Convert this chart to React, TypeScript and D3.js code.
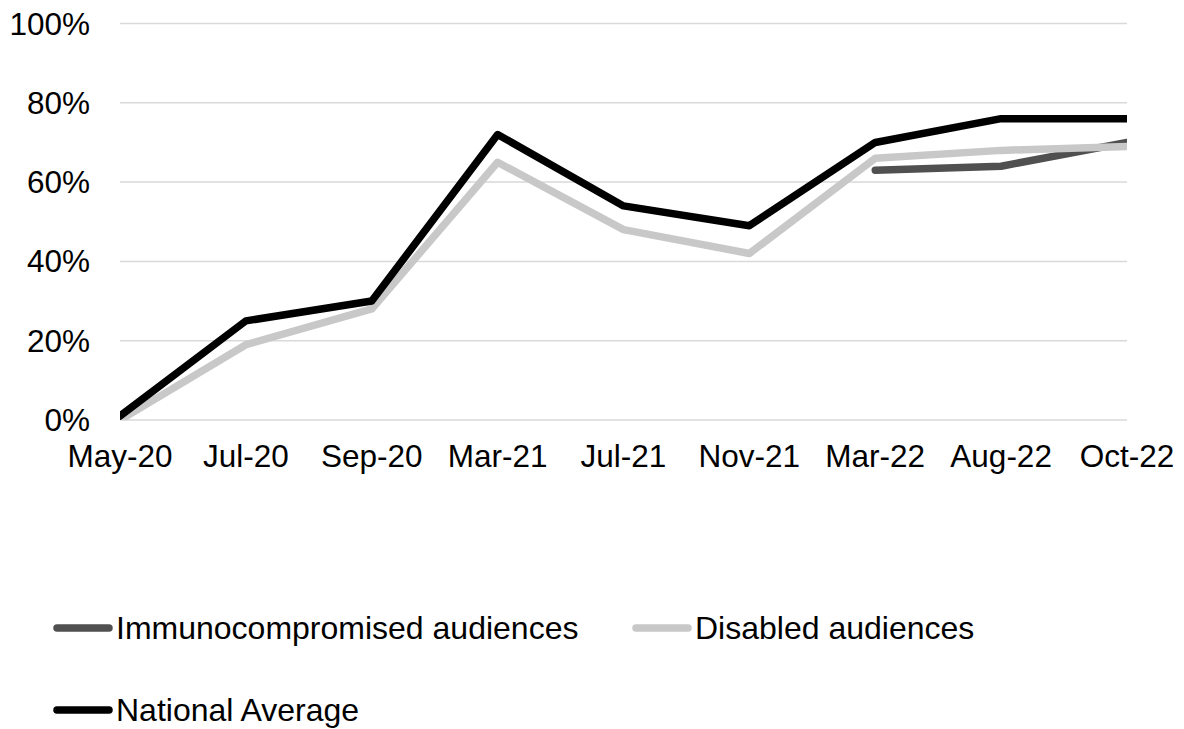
import { useEffect, useRef } from 'react';
import * as d3 from "d3";

const categories = ["May-20", "Jul-20", "Sep-20", "Mar-21", "Jul-21", "Nov-21", "Mar-22", "Aug-22", "Oct-22"];
const immunoValues: (number | null)[] = [null, null, null, null, null, null, 63, 64, 70];
const disabledValues: (number | null)[] = [0, 19, 28, 65, 48, 42, 66, 68, 69];
const nationalValues: (number | null)[] = [1, 25, 30, 72, 54, 49, 70, 76, 76];
const yTicks = [0, 20, 40, 60, 80, 100];

const series = [
  { name: "Immunocompromised audiences", values: immunoValues, color: "#505050" },
  { name: "Disabled audiences", values: disabledValues, color: "#c8c8c8" },
  { name: "National Average", values: nationalValues, color: "#000000" },
];

export default function App() {
  const chartRef = useRef<SVGSVGElement>(null);

  useEffect(() => {
    if (!chartRef.current) return;
    d3.select(chartRef.current).selectAll("*").remove();

    const width = 1184;
    const height = 729;
    const left = 120;
    const right = 1127;
    const top = 23.5;
    const bottom = 420;
    const font = "'Liberation Sans', Arial, sans-serif";
    const fs = 31.5;

    const x = d3.scalePoint().domain(categories).range([left, right]);
    const y = d3.scaleLinear().domain([0, 100]).range([bottom, top]);

    const svg = d3.select(chartRef.current)
      .attr("width", width)
      .attr("height", height)
      .style("display", "block");

    svg.append("defs").append("clipPath").attr("id", "plot")
      .append("rect")
      .attr("x", left).attr("y", top - 10)
      .attr("width", right - left).attr("height", bottom - top + 10);

    // gridlines
    svg.append("g")
      .selectAll("line")
      .data(yTicks)
      .join("line")
      .attr("x1", left).attr("x2", right)
      .attr("y1", d => y(d)).attr("y2", d => y(d))
      .attr("stroke", "#d9d9d9")
      .attr("stroke-width", 1.5);

    // y labels
    svg.append("g")
      .selectAll("text")
      .data(yTicks)
      .join("text")
      .attr("x", 90)
      .attr("y", d => y(d) + 11)
      .attr("text-anchor", "end")
      .style("font-family", font)
      .style("font-size", `${fs}px`)
      .text(d => `${d}%`);

    // x labels
    svg.append("g")
      .selectAll("text")
      .data(categories)
      .join("text")
      .attr("x", d => x(d)!)
      .attr("y", 467)
      .attr("text-anchor", "middle")
      .style("font-family", font)
      .style("font-size", `${fs}px`)
      .text(d => d);

    const line = d3.line<number | null>()
      .defined(d => d !== null)
      .x((_, i) => x(categories[i])!)
      .y(d => y(d as number));

    const lines = svg.append("g").attr("clip-path", "url(#plot)");
    series.forEach(s => {
      lines.append("path")
        .attr("d", line(s.values))
        .attr("fill", "none")
        .attr("stroke", s.color)
        .attr("stroke-width", 7.5)
        .attr("stroke-linejoin", "round")
        .attr("stroke-linecap", "round");
    });

    // legend
    const legendItems = [
      { s: series[0], x: 53, y: 628 },
      { s: series[1], x: 632, y: 628 },
      { s: series[2], x: 53, y: 710 },
    ];
    const leg = svg.append("g");
    legendItems.forEach(it => {
      leg.append("line")
        .attr("x1", it.x + 4).attr("x2", it.x + 56)
        .attr("y1", it.y).attr("y2", it.y)
        .attr("stroke", it.s.color)
        .attr("stroke-width", 7.5)
        .attr("stroke-linecap", "round");
      leg.append("text")
        .attr("x", it.x + 63)
        .attr("y", it.y + 11)
        .style("font-family", font)
        .style("font-size", "32px")
        .text(it.s.name);
    });
  }, []);

  return (
    <div style={{ position: "absolute", left: 0, top: 0 }}>
      <svg ref={chartRef}></svg>
    </div>
  );
}
